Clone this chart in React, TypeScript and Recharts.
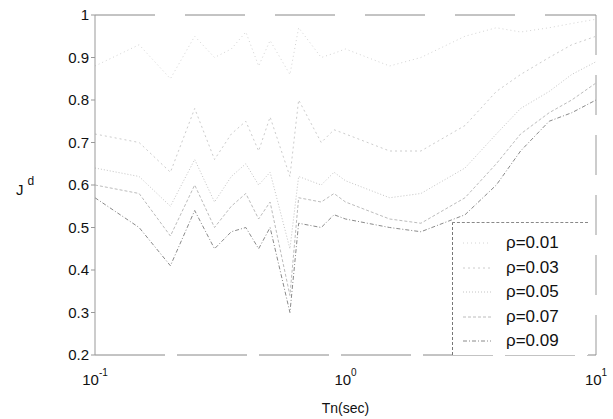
import { LineChart, Line, XAxis, YAxis, ReferenceLine, Label } from 'recharts'

// natural periods (sec)
const periods = [0.1, 0.15, 0.2, 0.25, 0.3, 0.35, 0.4, 0.45, 0.5, 0.6, 0.65, 0.8, 0.9, 1.0, 1.5, 2, 3, 4, 5, 6.5, 8, 10]

const rho001 = [0.88, 0.93, 0.85, 0.95, 0.9, 0.92, 0.96, 0.88, 0.94, 0.86, 0.97, 0.9, 0.91, 0.92, 0.88, 0.9, 0.95, 0.97, 0.96, 0.97, 0.98, 0.99]
const rho003 = [0.72, 0.7, 0.63, 0.78, 0.66, 0.72, 0.75, 0.68, 0.76, 0.62, 0.8, 0.7, 0.73, 0.72, 0.68, 0.68, 0.74, 0.82, 0.86, 0.9, 0.93, 0.95]
const rho005 = [0.64, 0.62, 0.55, 0.66, 0.56, 0.62, 0.65, 0.6, 0.63, 0.45, 0.62, 0.6, 0.63, 0.61, 0.57, 0.58, 0.64, 0.72, 0.78, 0.82, 0.86, 0.89]
const rho007 = [0.6, 0.58, 0.48, 0.6, 0.5, 0.55, 0.58, 0.52, 0.56, 0.34, 0.57, 0.56, 0.58, 0.56, 0.52, 0.51, 0.57, 0.65, 0.72, 0.77, 0.8, 0.84]
const rho009 = [0.57, 0.5, 0.41, 0.54, 0.45, 0.49, 0.5, 0.45, 0.5, 0.3, 0.51, 0.5, 0.53, 0.52, 0.5, 0.49, 0.53, 0.6, 0.68, 0.75, 0.77, 0.8]

const yTicks = [0.2, 0.3, 0.4, 0.5, 0.6, 0.7, 0.8, 0.9, 1]
const xTicks = [0.1, 1, 10]
const xTickExp = ['-1', '0', '1']

const series = [
  { key: 'r1', name: 'ρ=0.01', values: rho001, color: '#d4d4d4', dash: '1 3' },
  { key: 'r3', name: 'ρ=0.03', values: rho003, color: '#cccccc', dash: '2 3' },
  { key: 'r5', name: 'ρ=0.05', values: rho005, color: '#c4c4c4', dash: '1 2' },
  { key: 'r7', name: 'ρ=0.07', values: rho007, color: '#bcbcbc', dash: '3 2' },
  { key: 'r9', name: 'ρ=0.09', values: rho009, color: '#8a8a8a', dash: '4 2 1 2' },
]

const data = periods.map((T, i) => {
  const row: Record<string, number> = { T }
  series.forEach(s => { row[s.key] = s.values[i] })
  return row
})

const font = 'Arial, "Liberation Sans", sans-serif'

function XTick({ x, y, payload }: any) {
  const idx = xTicks.indexOf(payload.value)
  return (
    <text x={x} y={y + 22} textAnchor="middle" fontFamily={font} fontSize={15} fill="#111">
      10<tspan dy={-9} fontSize={10}>{xTickExp[idx]}</tspan>
    </text>
  )
}

function LegendBox() {
  return (
    <div style={{ position: 'absolute', left: 452, top: 222, width: 136, height: 133, borderLeft: '1px dashed #777', borderTop: '1px dashed #888', boxSizing: 'border-box', background: '#fff', fontFamily: font }}>
      {series.map((s, i) => (
        <div key={s.key} style={{ position: 'absolute', left: 10, top: 9 + i * 24.5, height: 22, display: 'flex', alignItems: 'center' }}>
          <svg width={30} height={4}><line x1={0} y1={2} x2={28} y2={2} stroke={s.color} strokeDasharray={s.dash} /></svg>
          <span style={{ fontSize: 17, color: '#111', marginLeft: 13 }}>{s.name}</span>
        </div>
      ))}
    </div>
  )
}

export default function App() {
  return (
    <div style={{ position: 'absolute', left: 0, top: 0, width: 613, height: 419, background: '#fff' }}>
      <LineChart width={613} height={419} data={data} margin={{ top: 15, right: 17, bottom: 34, left: 45 }}>
        <XAxis
          dataKey="T" type="number" scale="log" domain={[0.1, 10]} ticks={xTicks} allowDataOverflow
          height={30} stroke="#888" strokeDasharray="70 12" tickLine={false} tick={<XTick />} interval={0}
        >
          <Label position="insideBottom" offset={-28} value="Tn(sec)" style={{ fontFamily: font, fontSize: 14, fill: '#111' }} />
        </XAxis>
        <YAxis
          type="number" domain={[0.2, 1]} ticks={yTicks} width={50} stroke="#999"
          tickSize={4} tickLine={{ stroke: '#999' }} interval={0}
          tick={{ fontFamily: font, fontSize: 15, fill: '#111' }}
          tickFormatter={(v: number) => String(Number(v.toFixed(1)))}
          label={{
            content: () => (
              <text x={16} y={195} fontFamily={font} fontSize={15} fill="#111">
                J<tspan dx={4} dy={-10} fontSize={12} fill="#111">d</tspan>
              </text>
            ),
          }}
        />
        <ReferenceLine y={1} stroke="#888" strokeDasharray="60 30" />
        <ReferenceLine x={10} stroke="#999" strokeDasharray="40 20" />
        {series.map(s => (
          <Line
            key={s.key} dataKey={s.key} name={s.name} type="linear" stroke={s.color}
            strokeDasharray={s.dash} strokeWidth={1} dot={false} isAnimationActive={false}
          />
        ))}
      </LineChart>
      <LegendBox />
    </div>
  )
}
